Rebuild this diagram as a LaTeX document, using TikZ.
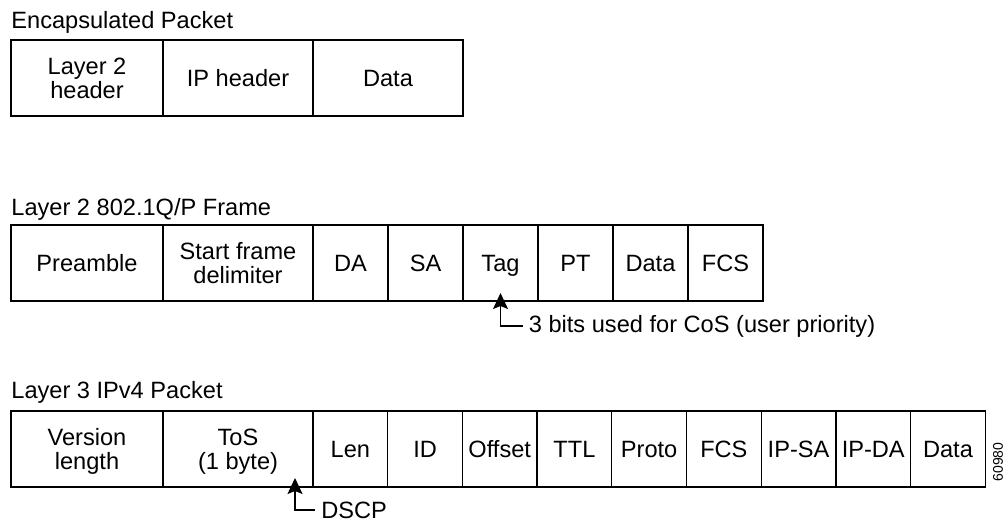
\documentclass[tikz,border=0pt]{standalone}
\usepackage{fontspec}
\setmainfont{Liberation Sans}
\usetikzlibrary{positioning,arrows.meta}

\tikzset{
  cell/.style={draw, line width=0.65pt, minimum height=38pt, inner sep=0pt,
    outer sep=0pt, align=center, text depth=0pt, font=\fontsize{11.8}{12}\selectfont},
  cellwide/.style={cell, minimum width=76pt},
  cellmid/.style={cell, minimum width=75pt},
  cellnarrow/.style={cell, minimum width=37.5pt},
  cellslim/.style={cell, minimum width=37.35pt},
  title/.style={anchor=base west, inner sep=0pt, font=\fontsize{11.8}{12}\selectfont},
  note/.style={anchor=west, inner xsep=3pt, inner ysep=0pt, font=\fontsize{11.8}{12}\selectfont},
  ptr/.style={line width=0.65pt, -{Stealth[length=8pt,width=7.5pt,inset=1.5pt]}}
}

\begin{document}
\begin{tikzpicture}[x=0.5pt, y=-0.5pt]
  \useasboundingbox (0,0) rectangle (1005,520);
  % encapsulated packet
  \node[cellwide, anchor=north west] (l2hdr) at (11,40) {Layer 2\\header};
  \node[cellmid, right=0pt of l2hdr] (iphdr) {IP header};
  \node[cellmid, right=0pt of iphdr] (encdata) {Data};
  \node[title] (enctitle) at ([yshift=6pt]l2hdr.north west) {Encapsulated Packet};

  % 802.1Q/P frame
  \node[cellwide, anchor=north west] (pre) at (11,225) {Preamble};
  \node[cellmid, right=0pt of pre] (sfd) {Start frame\\delimiter};
  \node[cellnarrow, right=0pt of sfd] (da) {DA};
  \node[cellnarrow, right=0pt of da] (sa) {SA};
  \node[cellnarrow, right=0pt of sa] (tag) {Tag};
  \node[cellnarrow, right=0pt of tag] (pt) {PT};
  \node[cellnarrow, right=0pt of pt] (frmdata) {Data};
  \node[cellnarrow, right=0pt of frmdata] (frmfcs) {FCS};
  \node[title] (frmtitle) at ([yshift=5pt]pre.north west) {Layer 2 802.1Q/P Frame};
  \node[note] (cosnote) at ([xshift=11pt,yshift=-12.5pt]tag.south)
    {3 bits used for CoS (user priority)};
  \draw[ptr] (cosnote.west) -| ([yshift=4pt]tag.south);

  % IPv4 packet
  \node[cellwide, anchor=north west] (ver) at (11,411) {Version\\length};
  \node[cellmid, right=0pt of ver] (tos) {ToS\\(1 byte)};
  \node[cellslim, right=0pt of tos] (len) {Len};
  \node[cellslim, right=0pt of len] (id) {ID};
  \node[cellslim, right=0pt of id] (offset) {Offset};
  \node[cellslim, right=0pt of offset] (ttl) {TTL};
  \node[cellslim, right=0pt of ttl] (proto) {Proto};
  \node[cellslim, right=0pt of proto] (ipfcs) {FCS};
  \node[cellslim, right=0pt of ipfcs] (ipsa) {IP-SA};
  \node[cellslim, right=0pt of ipsa] (ipda) {IP-DA};
  \node[cellslim, right=0pt of ipda] (ipdata) {Data};
  \node[title] (iptitle) at ([yshift=6.5pt]ver.north west) {Layer 3 IPv4 Packet};
  \node[note] (dscp) at ([xshift=38.5pt,yshift=-11.5pt]tos.south) {DSCP};
  \draw[ptr] (dscp.west) -| ([xshift=28.5pt,yshift=4.5pt]tos.south);

  \node[rotate=90, inner sep=0pt, font=\fontsize{7}{8}\selectfont] (figid) at (998,462) {60980};
\end{tikzpicture}
\end{document}
